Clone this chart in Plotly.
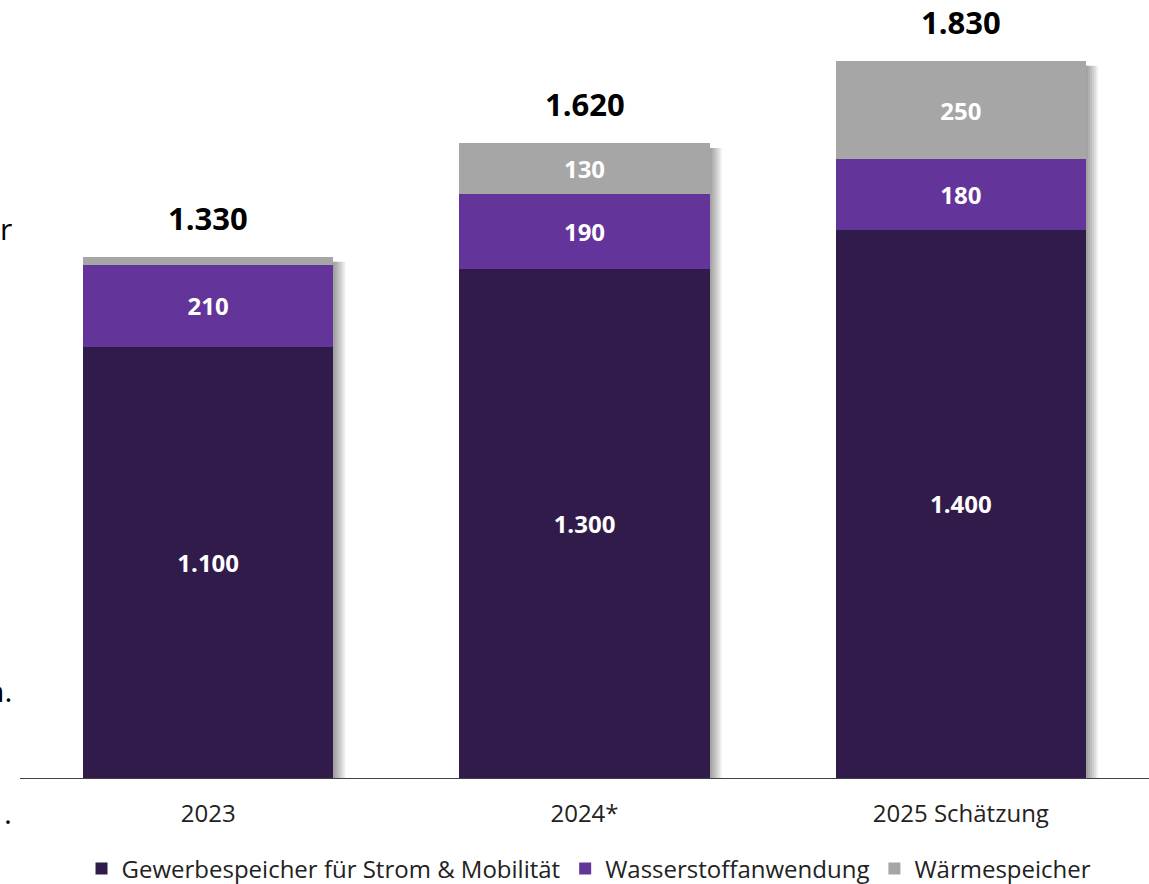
import plotly.graph_objects as go

categories = ["2023", "2024*", "2025 Schätzung"]
gewerbe = [1100, 1300, 1400]
wasserstoff = [210, 190, 180]
waerme = [20, 130, 250]
totals = [1330, 1620, 1830]

series = [
    ("Gewerbespeicher für Strom & Mobilität", gewerbe, "#311B4B"),
    ("Wasserstoffanwendung", wasserstoff, "#63359A"),
    ("Wärmespeicher", waerme, "#A6A6A6"),
]

BARGAP = 0.335

def de(v):
    return f"{v:,}".replace(",", ".")

fig = go.Figure()
for name, vals, col in series:
    fig.add_trace(go.Bar(
        x=categories, y=vals, name=name,
        marker=dict(color=col, line=dict(width=0)),
        text=[de(v) if v >= 50 else "" for v in vals],
        textposition="inside", insidetextanchor="middle",
        textfont=dict(family="Open Sans", size=24, color="white", weight="bold"),
        textangle=0,
        hoverinfo="skip",
    ))

# soft drop shadow on the right of each bar
half = (1 - BARGAP) / 2
for i, t in enumerate(totals):
    for k in range(1, 7):
        fig.add_shape(type="rect", layer="below", xref="x", yref="y",
                      xsizemode="pixel", xanchor=i + half, x0=-1, x1=2 * k,
                      y0=-8, y1=t - 12, line=dict(width=0),
                      fillcolor="black", opacity=0.07)

for i, t in enumerate(totals):
    fig.add_annotation(x=i, y=t, text=f"<b>{de(t)}</b>", showarrow=False,
                       yanchor="bottom", yshift=16,
                       font=dict(family="Open Sans", size=31, color="black"))

# cropped text fragments from surrounding page at left edge
for txt, py in [("r", 228), ("n.", 690), (".", 812)]:
    fig.add_annotation(xref="paper", yref="paper", x=(14 - 20) / 1129,
                       y=1 - py / 778, text=txt, showarrow=False,
                       xanchor="right", yanchor="middle",
                       font=dict(family="Open Sans", size=30, color="black"))

fig.update_layout(
    barmode="stack", bargap=BARGAP,
    width=1149, height=884,
    margin=dict(l=20, r=0, t=0, b=106, autoexpand=False),
    paper_bgcolor="white", plot_bgcolor="white",
    font=dict(family="Open Sans", size=24, color="#222222"),
    showlegend=True,
    legend=dict(orientation="h", x=0.504, xanchor="center",
                yref="container", y=1 - 869 / 884, yanchor="middle",
                font=dict(family="Open Sans", size=24, color="#222222"),
                traceorder="normal", itemwidth=30),
    xaxis=dict(type="category", range=[-0.5, 2.5], showline=True, linecolor="#404040",
               linewidth=1, showgrid=False, ticks="outside", ticklen=14,
               tickcolor="rgba(0,0,0,0)",
               tickfont=dict(family="Open Sans", size=24, color="#222222")),
    yaxis=dict(visible=False, range=[0, 1986]),
)

fig.write_html("out.html", config={"displayModeBar": False},
               post_script="document.body.style.margin='0';")
